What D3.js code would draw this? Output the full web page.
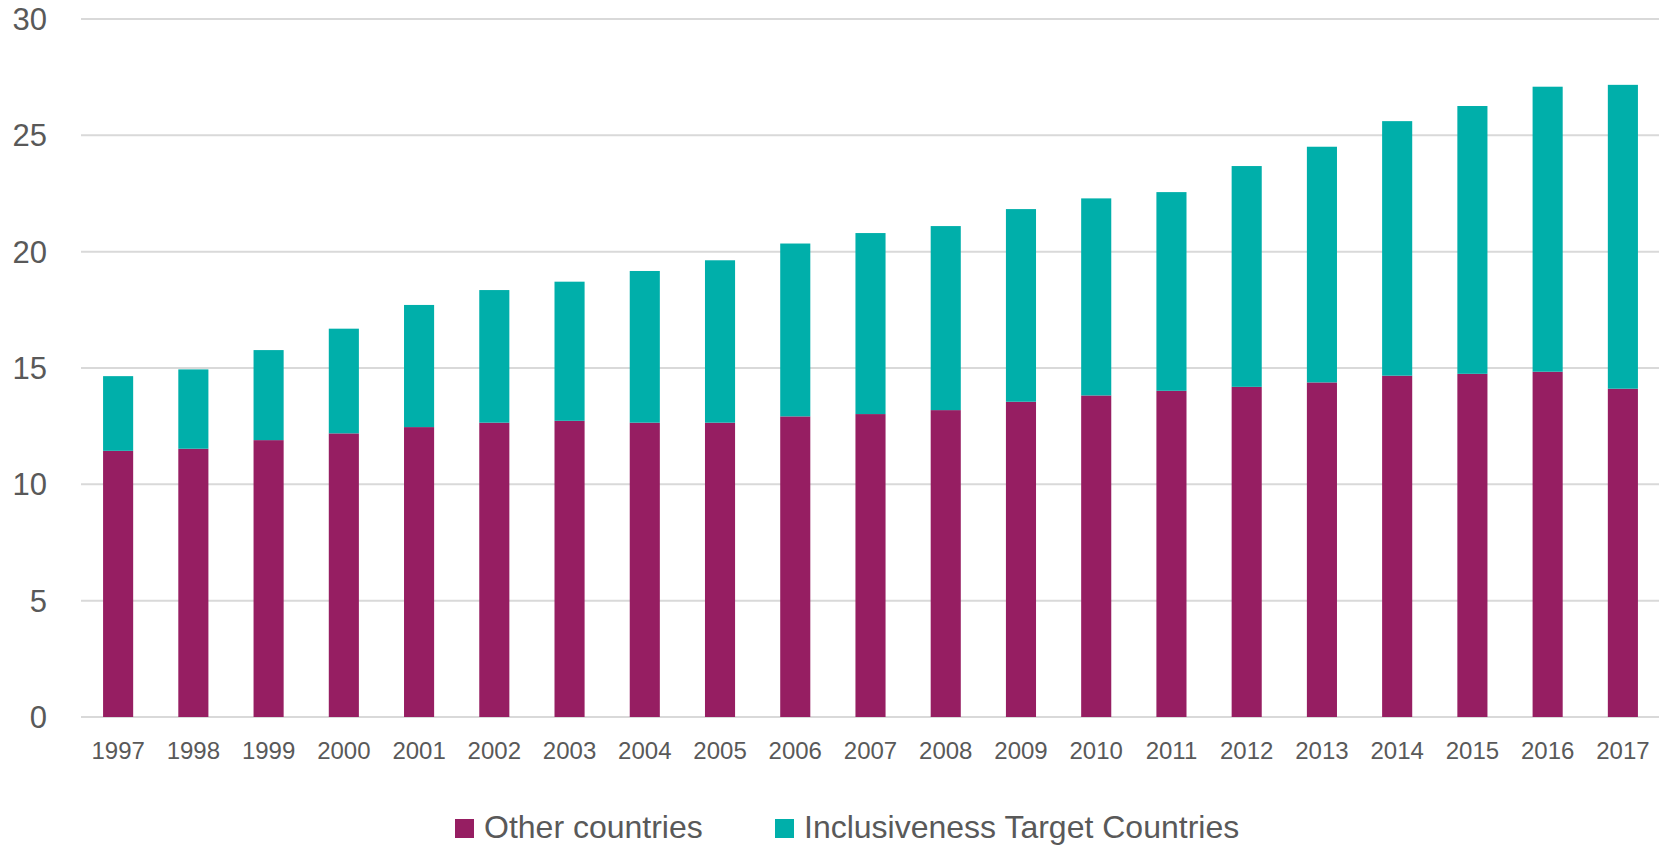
<!DOCTYPE html>
<html>
<head>
<meta charset="utf-8">
<script src="https://cdn.jsdelivr.net/npm/d3@7"></script>
<style>
  body { margin: 0; background: #fff; }
  text { font-family: "Liberation Sans", Arial, sans-serif; fill: #595959; }
</style>
</head>
<body>
<div class="mainChart"></div>
<script>
const years = ['1997', '1998', '1999', '2000', '2001', '2002', '2003', '2004', '2005', '2006', '2007',
  '2008', '2009', '2010', '2011', '2012', '2013', '2014', '2015', '2016', '2017'];
const otherCountries = [11.44, 11.53, 11.90, 12.19, 12.46, 12.65, 12.73, 12.65, 12.65, 12.92, 13.02,
  13.19, 13.55, 13.82, 14.02, 14.19, 14.38, 14.67, 14.75, 14.84, 14.11];
const targetCountries = [3.21, 3.41, 3.87, 4.50, 5.25, 5.70, 5.98, 6.52, 6.98, 7.43, 7.78,
  7.91, 8.28, 8.47, 8.54, 9.49, 10.13, 10.94, 11.51, 12.25, 13.06];
const yTicks = [0, 5, 10, 15, 20, 25, 30];
const seriesNames = ['Other countries', 'Inclusiveness Target Countries'];
const seriesColors = ['#961e62', '#00afaa'];

const width = 1659;
const height = 846;

const rows = years.map((y, i) => ({ year: y, other: otherCountries[i], target: targetCountries[i] }));
const stacked = d3.stack().keys(['other', 'target'])(rows);

// scales
const x = d3.scaleBand()
  .domain(years)
  .range([80.5, 1660.5])
  .paddingInner(0.6)
  .paddingOuter(0.3);

const y = d3.scaleLinear()
  .domain([0, 30])
  .range([717, 19]);

const svg = d3.select('.mainChart').append('svg')
  .attr('width', width)
  .attr('height', height);

// gridlines
svg.append('g')
  .selectAll('line')
  .data(yTicks)
  .enter().append('line')
    .attr('x1', 81)
    .attr('x2', width)
    .attr('y1', d => y(d))
    .attr('y2', d => y(d))
    .style('stroke', '#d9d9d9')
    .style('stroke-width', 2);

// y labels
svg.append('g')
  .selectAll('text')
  .data(yTicks)
  .enter().append('text')
    .attr('x', 47)
    .attr('y', d => y(d))
    .attr('dy', '0.36em')
    .attr('text-anchor', 'end')
    .style('font-size', '31px')
    .text(d => d);

// bars
svg.append('g')
  .selectAll('g')
  .data(stacked)
  .enter().append('g')
    .style('fill', (d, i) => seriesColors[i])
  .selectAll('rect')
  .data(d => d)
  .enter().append('rect')
    .attr('x', d => x(d.data.year))
    .attr('width', x.bandwidth())
    .attr('y', d => y(d[1]))
    .attr('height', d => y(d[0]) - y(d[1]));

// x axis labels
const xAxis = d3.axisBottom(x).tickSize(0).tickPadding(0);
const xg = svg.append('g')
  .attr('transform', 'translate(0, 717)')
  .call(xAxis);
xg.select('.domain').remove();
xg.selectAll('text')
  .attr('y', 42)
  .attr('dy', 0)
  .style('font-size', '24px')
  .style('font-family', '"Liberation Sans", Arial, sans-serif')
  .style('fill', '#595959');

// legend
const legendX = [455, 775];
const legend = svg.append('g')
  .selectAll('g')
  .data(seriesNames)
  .enter().append('g')
    .attr('transform', (d, i) => 'translate(' + legendX[i] + ', 0)');
legend.append('rect')
  .attr('x', 0)
  .attr('y', 819)
  .attr('width', 19)
  .attr('height', 19)
  .style('fill', (d, i) => seriesColors[i]);
legend.append('text')
  .attr('x', 29)
  .attr('y', 838)
  .style('font-size', '32px')
  .text(d => d);
</script>
</body>
</html>
